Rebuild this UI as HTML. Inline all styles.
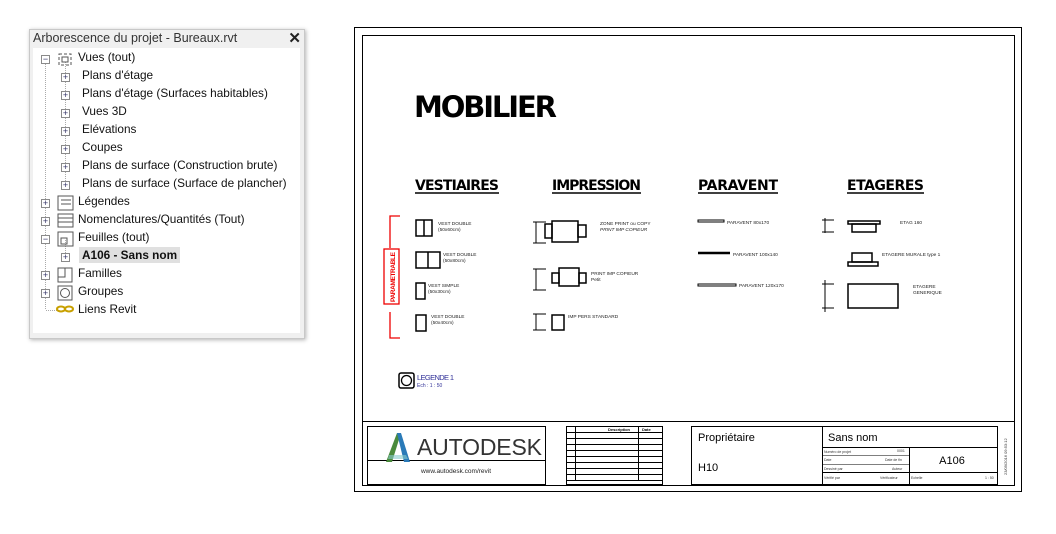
<!DOCTYPE html>
<html><head><meta charset="utf-8"><style>
body{margin:0;width:1056px;height:534px;background:#fff;overflow:hidden;font-family:"Liberation Sans",sans-serif;position:relative}
#tree{position:absolute;left:29px;top:29px;width:274px;height:308px;background:#f0f0f0;border:1px solid #c8c8c8;box-shadow:1px 1px 4px rgba(0,0,0,.3)}
#tree .t{position:absolute;left:3px;top:1px;font-size:12.5px;color:#333}
#tree .x{position:absolute;right:3px;top:-1px;font-size:15px;font-weight:bold;color:#222}
#tree .w{position:absolute;left:3px;top:18px;width:267px;height:285px;background:#fff}
.r{position:absolute;font-size:11.8px;color:#111;white-space:nowrap}
.pm{position:absolute;width:7px;height:7px;border:1px solid #8a8a8a;font-size:9px;line-height:7px;text-align:center;color:#336;background:#fff}
</style></head><body>
<div id="tree"><div class="t">Arborescence du projet - Bureaux.rvt</div><div class="x">✕</div>
<div class="w">
<svg width="267" height="285" style="position:absolute;left:0;top:0" stroke="#aaa" stroke-dasharray="1 1" fill="none">
<line x1="12.5" y1="14" x2="12.5" y2="262"/><line x1="32.5" y1="14" x2="32.5" y2="136"/>
<line x1="13" y1="262.5" x2="24" y2="262.5"/>
<line x1="32.5" y1="192" x2="32.5" y2="208"/>
</svg>
<div class="r" style="left:45px;top:2px">Vues (tout)</div>
<div class="r" style="left:49px;top:20px">Plans d'étage</div>
<div class="r" style="left:49px;top:38px">Plans d'étage (Surfaces habitables)</div>
<div class="r" style="left:49px;top:56px">Vues 3D</div>
<div class="r" style="left:49px;top:74px">Elévations</div>
<div class="r" style="left:49px;top:92px">Coupes</div>
<div class="r" style="left:49px;top:110px">Plans de surface (Construction brute)</div>
<div class="r" style="left:49px;top:128px">Plans de surface (Surface de plancher)</div>
<div class="r" style="left:45px;top:146px">Légendes</div>
<div class="r" style="left:45px;top:164px">Nomenclatures/Quantités (Tout)</div>
<div class="r" style="left:45px;top:182px">Feuilles (tout)</div>
<div class="r" style="left:46px;top:199px;background:#e0e0e0;font-weight:bold;padding:1px 3px">A106 - Sans nom</div>
<div class="r" style="left:45px;top:218px">Familles</div>
<div class="r" style="left:45px;top:236px">Groupes</div>
<div class="r" style="left:45px;top:254px">Liens Revit</div>
<div class="pm" style="left:8px;top:7px">−</div>
<div class="pm" style="left:28px;top:25px">+</div><div class="pm" style="left:28px;top:43px">+</div><div class="pm" style="left:28px;top:61px">+</div><div class="pm" style="left:28px;top:79px">+</div><div class="pm" style="left:28px;top:97px">+</div><div class="pm" style="left:28px;top:115px">+</div><div class="pm" style="left:28px;top:133px">+</div>
<div class="pm" style="left:8px;top:151px">+</div><div class="pm" style="left:8px;top:169px">+</div><div class="pm" style="left:8px;top:187px">−</div>
<div class="pm" style="left:28px;top:205px">+</div><div class="pm" style="left:8px;top:223px">+</div><div class="pm" style="left:8px;top:241px">+</div>
<svg width="267" height="285" style="position:absolute;left:0;top:0" fill="none" stroke="#555">
<rect x="26" y="6" width="12" height="11" stroke-dasharray="3 2"/><rect x="29" y="9" width="6" height="5"/>
<rect x="25" y="148" width="15" height="14"/><line x1="28" y1="152" x2="38" y2="152"/><line x1="28" y1="156" x2="38" y2="156"/>
<rect x="25" y="166" width="15" height="13"/><line x1="25" y1="170" x2="40" y2="170"/><line x1="25" y1="174" x2="40" y2="174"/>
<rect x="25" y="184" width="15" height="14"/><rect x="28" y="190" width="6" height="6"/>
<rect x="25" y="220" width="14" height="14"/><rect x="25" y="220" width="7" height="9"/>
<rect x="25" y="238" width="14" height="14"/><circle cx="32" cy="245" r="4.5"/>
<ellipse cx="28" cy="261" rx="4" ry="2.5" stroke="#c8a000" stroke-width="2"/><ellipse cx="36" cy="261" rx="4" ry="2.5" stroke="#c8a000" stroke-width="2"/>
</svg>
</div></div>

<svg width="1056" height="534" style="position:absolute;left:0;top:0" font-family="Liberation Sans, sans-serif">
<rect x="354.5" y="27.5" width="667" height="464" fill="none" stroke="#000"/>
<rect x="362.5" y="35.5" width="652" height="450" fill="none" stroke="#000"/>
<line x1="362" y1="421.5" x2="1015" y2="421.5" stroke="#000"/>
<text x="414" y="117" font-size="29" font-weight="bold" font-family="DejaVu Sans, sans-serif" textLength="143">MOBILIER</text>
<g font-size="14" font-weight="bold" font-family="DejaVu Sans, sans-serif">
<text x="415" y="190" textLength="84">VESTIAIRES</text><line x1="415" y1="193" x2="499" y2="193" stroke="#000" stroke-width="1.5"/>
<text x="552" y="190" textLength="89">IMPRESSION</text><line x1="552" y1="193" x2="641" y2="193" stroke="#000" stroke-width="1.5"/>
<text x="698" y="190" textLength="80">PARAVENT</text><line x1="698" y1="193" x2="778" y2="193" stroke="#000" stroke-width="1.5"/>
<text x="847" y="190" textLength="77">ETAGERES</text><line x1="847" y1="193" x2="924" y2="193" stroke="#000" stroke-width="1.5"/>
</g>
<g fill="none" stroke="#e00" stroke-width="1.3">
<polyline points="400,216 390,216 390,248"/><rect x="384" y="249" width="15" height="55"/><polyline points="390,312 390,338 400,338"/>
</g>
<text transform="translate(395,302) rotate(-90)" font-size="6.5" font-weight="bold" fill="#e00" textLength="50">PARAMETRABLE</text>
<g fill="none" stroke="#000" stroke-width="1.5">
<rect x="416" y="220" width="16" height="16"/><line x1="424" y1="220" x2="424" y2="236"/>
<rect x="416" y="252" width="24" height="16"/><line x1="428" y1="252" x2="428" y2="268"/>
<rect x="416" y="283" width="9" height="16"/><rect x="416" y="315" width="10" height="16"/>
<rect x="552" y="221" width="26" height="21"/><rect x="545" y="224" width="7" height="14"/><rect x="578" y="225" width="8" height="12"/>
<rect x="559" y="268" width="20" height="18"/><rect x="552" y="273" width="7" height="10"/><rect x="579" y="273" width="7" height="10"/>
<rect x="552" y="315" width="12" height="15"/>
<rect x="848" y="221" width="32" height="3"/><rect x="852" y="224" width="24" height="8"/>
<rect x="852" y="253" width="20" height="9"/><rect x="848" y="262" width="30" height="4"/>
<rect x="848" y="284" width="50" height="24"/>
<rect x="698" y="220" width="26" height="2" stroke-width="1"/><line x1="698" y1="253" x2="730" y2="253" stroke-width="2.5"/><rect x="698" y="284" width="38" height="2" stroke-width="1"/>
</g>
<g stroke="#000" stroke-width="1">
<line x1="536" y1="222" x2="536" y2="243"/><line x1="533" y1="222" x2="546" y2="222"/><line x1="533" y1="243" x2="546" y2="243"/>
<line x1="536" y1="269" x2="536" y2="290"/><line x1="533" y1="269" x2="546" y2="269"/><line x1="533" y1="290" x2="546" y2="290"/>
<line x1="536" y1="314" x2="536" y2="330"/><line x1="533" y1="314" x2="546" y2="314"/><line x1="533" y1="330" x2="546" y2="330"/>
<line x1="825" y1="218" x2="825" y2="233"/><line x1="822" y1="220" x2="834" y2="220"/><line x1="822" y1="232" x2="834" y2="232"/>
<line x1="825" y1="280" x2="825" y2="312"/><line x1="822" y1="284" x2="834" y2="284"/><line x1="822" y1="308" x2="834" y2="308"/>
</g>
<g font-size="4.8" fill="#222">
<text x="438" y="225">VEST DOUBLE</text><text x="438" y="231">(50x60cm)</text>
<text x="443" y="256">VEST DOUBLE</text><text x="443" y="262">(50x80cm)</text>
<text x="428" y="287">VEST SIMPLE</text><text x="428" y="293">(50x30cm)</text>
<text x="431" y="318">VEST DOUBLE</text><text x="431" y="324">(50x40cm)</text>
<text x="600" y="225">ZONE PRINT ou COPY</text><text x="600" y="231" font-style="italic">PRINT IMP COPIEUR</text>
<text x="591" y="275">PRINT IMP COPIEUR</text><text x="591" y="281">Petit</text>
<text x="568" y="318">IMP PERS STANDARD</text>
<text x="727" y="224">PARAVENT 80x170</text><text x="733" y="256">PARAVENT 100x140</text><text x="739" y="287">PARAVENT 120x170</text>
<text x="900" y="224">ETAG 160</text><text x="882" y="256">ETAGERE MURALE type 1</text>
<text x="913" y="288">ETAGERE</text><text x="913" y="294">GENERIQUE</text>
</g>
<rect x="399" y="373" width="15" height="15" rx="2" fill="none" stroke="#000" stroke-width="1.5"/><circle cx="406.5" cy="380.5" r="5" fill="none" stroke="#000" stroke-width="1.3"/>
<text x="417" y="380" font-size="7.5" fill="#339" textLength="37">LEGENDE 1</text><text x="417" y="387" font-size="5" fill="#339">Ech :  1 : 50</text>
<g fill="none" stroke="#000">
<rect x="367.5" y="426.5" width="178" height="58"/><line x1="367" y1="460.5" x2="546" y2="460.5"/>
<rect x="566.5" y="426.5" width="96" height="58"/>
<line x1="566" y1="432.5" x2="663" y2="432.5"/><line x1="566" y1="438.5" x2="663" y2="438.5"/><line x1="566" y1="444.5" x2="663" y2="444.5"/><line x1="566" y1="450.5" x2="663" y2="450.5"/><line x1="566" y1="456.5" x2="663" y2="456.5"/><line x1="566" y1="462.5" x2="663" y2="462.5"/><line x1="566" y1="468.5" x2="663" y2="468.5"/><line x1="566" y1="474.5" x2="663" y2="474.5"/><line x1="566" y1="480.5" x2="663" y2="480.5"/>
<line x1="575.5" y1="426" x2="575.5" y2="480"/><line x1="638.5" y1="426" x2="638.5" y2="480"/>
<rect x="691.5" y="426.5" width="306" height="58"/><line x1="822.5" y1="426" x2="822.5" y2="485"/>
<line x1="822" y1="447.5" x2="998" y2="447.5"/><line x1="909.5" y1="447" x2="909.5" y2="485"/><line x1="822" y1="472.5" x2="998" y2="472.5"/>
<line x1="822" y1="455.5" x2="909" y2="455.5" stroke-width=".6"/><line x1="822" y1="464.5" x2="909" y2="464.5" stroke-width=".6"/>
</g>
<polygon points="386,462 397,433 401,433 392,462" fill="#4a8a3c"/><polygon points="397,433 401,433 410,462 404,462" fill="#2a7ab8"/><polygon points="389,455 406,455 408,459 388,459" fill="#8cc" opacity=".6"/>
<text x="417" y="455" font-size="23" fill="#333" textLength="125">AUTODESK</text>
<text x="456" y="473" text-anchor="middle" font-size="6.5" fill="#222">www.autodesk.com/revit</text>
<text x="608" y="431" font-size="4" font-weight="bold">Description</text><text x="642" y="431" font-size="4" font-weight="bold">Date</text>
<text x="698" y="441" font-size="11">Propriétaire</text><text x="698" y="471" font-size="11">H10</text>
<text x="828" y="441" font-size="11">Sans nom</text><text x="952" y="464" text-anchor="middle" font-size="11">A106</text>
<g font-size="3.5" fill="#333"><text x="824" y="453">Numéro de projet</text><text x="897" y="452">0001</text><text x="824" y="461">Date</text><text x="885" y="461">Date de fin</text><text x="824" y="470">Dessiné par</text><text x="892" y="470">Auteur</text><text x="824" y="479">Vérifié par</text><text x="880" y="479">Vérificateur</text><text x="911" y="479">Echelle</text><text x="985" y="479">1 : 50</text></g>
<text transform="translate(1007,475) rotate(-90)" font-size="4" fill="#333">23/09/2016 09:53:12</text>
</svg>
</body></html>
